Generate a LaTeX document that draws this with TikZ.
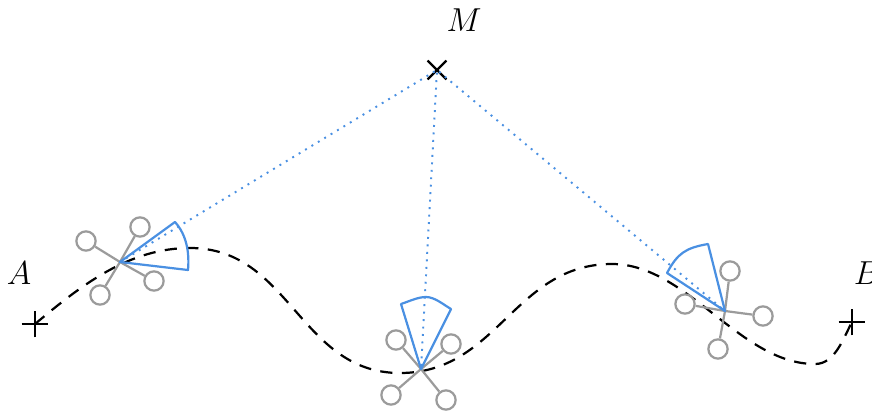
\documentclass[tikz,border=0pt]{standalone}
\usepackage{xcolor}
\usetikzlibrary{shapes.misc}
\definecolor{rbBlue}{HTML}{4A90E2}
\definecolor{rbGray}{HTML}{9B9B9B}
\tikzset{
  % Waypoint marks
  tick/.style={cross out,draw=black,line width=0.8pt,minimum size=0.24cm,inner sep=0pt,outer sep=0pt},
  % Robot wheel and hub
  wheel/.style={circle,draw=rbGray,fill=white,line width=0.8pt,minimum size=0.245cm,inner sep=0pt},
  hub/.style={inner sep=0pt,minimum size=0pt},
  % Lines
  spoke/.style={rbGray,line width=0.8pt},
  beam/.style={rbBlue,line width=0.8pt,line join=round},
  sight/.style={rbBlue,line width=0.7pt,dash pattern=on 0.7pt off 2pt,shorten <=1pt},
  route/.style={black,line width=0.8pt,dash pattern=on 4.4pt off 3.4pt},
  lbl/.style={font=\large,inner sep=0pt},
}
\begin{document}
\begin{tikzpicture}[x=0.0127cm,y=-0.0127cm]
  \useasboundingbox (0,0) rectangle (872,412);

  \node[lbl] (lA) at (19,273) {$A$};
  \node[lbl] (lB) at (867,273) {$B$};
  \node[lbl] (lM) at (464,20) {$M$};
  \node[tick,rotate=45] (A) at (35,324) {};
  \node[tick,rotate=45] (B) at (852,322) {};
  \node[tick] (M) at (437,70) {};

  \node[hub] (r1) at (120,262) {};
  \node[hub] (r2) at (421,369) {};
  \node[hub] (r3) at (725,311) {};

  \coordinate (p1) at (190,248);
  \coordinate (p2) at (400,373);
  \coordinate (p3) at (612,264);
  \coordinate (p4) at (815,364);
  \draw[route] (A.center) to[out=40,in=180,looseness=0.9] (p1)
    to[out=0,in=180,looseness=1.05] (p2)
    to[out=0,in=180,looseness=1.05] (p3)
    to[out=0,in=180,looseness=0.85] (p4)
    to[out=0,in=-118,looseness=0.9] (B.center);

  \draw[sight] (M.center) -- (r1.center);
  \draw[sight] (M.center) -- (r2.center);
  \draw[sight] (M.center) -- (r3.center);

  \node[wheel] (w1a) at (140,227) {};
  \node[wheel] (w1b) at (86,241) {};
  \node[wheel] (w1c) at (154,281) {};
  \node[wheel] (w1d) at (100,295) {};
  \node[wheel] (w2a) at (396,340) {};
  \node[wheel] (w2b) at (451,344) {};
  \node[wheel] (w2c) at (391,395) {};
  \node[wheel] (w2d) at (446,400) {};
  \node[wheel] (w3a) at (730,271) {};
  \node[wheel] (w3b) at (685,304) {};
  \node[wheel] (w3c) at (763,316) {};
  \node[wheel] (w3d) at (718,349) {};
  \foreach \w in {a,b,c,d} {
    \draw[spoke] (r1.center) -- (w1\w);
    \draw[spoke] (r2.center) -- (w2\w);
    \draw[spoke] (r3.center) -- (w3\w);
  }

  \coordinate (s1a) at (175,222);
  \coordinate (s1b) at (188,270);
  \coordinate (s2a) at (401,304);
  \coordinate (s2m) at (426,297);
  \coordinate (s2b) at (451,309);
  \coordinate (s3a) at (708,244);
  \coordinate (s3b) at (667,273);
  \draw[beam] (r1.center) -- (s1a) to[out=-48,in=85,looseness=0.9] (s1b) -- cycle;
  \draw[beam] (r2.center) -- (s2a) to[out=18,in=180,looseness=0.8] (s2m)
    to[out=0,in=150,looseness=0.8] (s2b) -- cycle;
  \draw[beam] (r3.center) -- (s3a) to[out=190,in=62,looseness=1.15] (s3b) -- cycle;
\end{tikzpicture}
\end{document}
